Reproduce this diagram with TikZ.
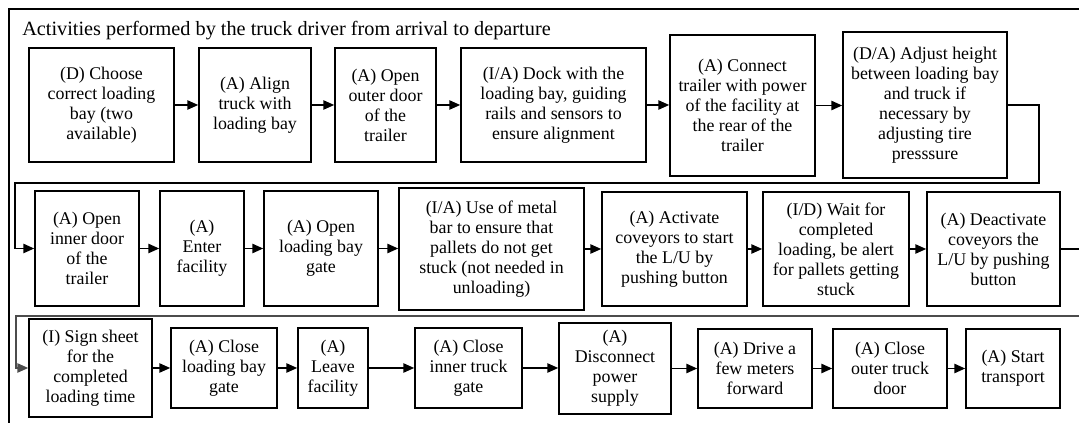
\documentclass[tikz,border=0pt]{standalone}
\usepackage{fontspec}
\setmainfont{Liberation Serif}
\usetikzlibrary{arrows.meta}
\newcommand{\abox}[6]{\node[box, minimum width={(#4-#2)*0.75pt}, minimum height={(#5-#3)*0.75pt}] (#1) at ({(#2+#4)/2},{(#3+#5)/2}) {#6};}
\begin{document}
\begin{tikzpicture}[x=0.75pt,y=-0.75pt,
  box/.style={draw=black, line width=1.3pt, inner sep=0pt, align=center, font=\fontsize{13.4}{15}\selectfont},
  conn/.style={draw=black, line width=0.8pt, -{Triangle[length=8pt,width=7pt]}},
  wrap/.style={draw=black, line width=0.8pt},
  frame/.style={draw=black, line width=1.2pt}]
\useasboundingbox (0,0) rectangle (1079,423);
\fill[white] (0,0) rectangle (1079,423);
% frame
\coordinate (ftr) at (1090,9);
\coordinate (ftl) at (9,9);
\coordinate (fbl) at (9,440);
\draw[frame] (ftr) -- (ftl) -- (fbl);
\node[anchor=base west, inner sep=0pt, font=\fontsize{15.2}{17}\selectfont] (title) at (22,36) {Activities performed by the truck driver from arrival to departure};
% row 1
\abox{b1}{29}{48}{174}{162}{(D) Choose\\correct loading\\bay (two\\available)}
\abox{b2}{199}{48}{311}{162}{(A) Align\\truck with\\loading bay}
\abox{b3}{335}{48}{436}{162}{(A) Open\\outer door\\of the\\trailer}
\abox{b4}{461}{48}{646}{162}{(I/A) Dock with the\\loading bay, guiding\\rails and sensors to\\ensure alignment}
\abox{b5}{670}{35}{815}{176}{(A) Connect\\trailer with power\\of the facility at\\the rear of the\\trailer}
\abox{b6}{843}{32}{1007}{178}{(D/A) Adjust height\\between loading bay\\and truck if\\necessary by\\adjusting tire\\presssure}
% row 2
\abox{b7}{35}{191}{139}{306}{(A) Open\\inner door\\of the\\trailer}
\abox{b8}{160}{191}{244}{306}{(A)\\Enter\\facility}
\abox{b9}{264}{191}{378}{306}{(A) Open\\loading bay\\gate}
\abox{b10}{399}{188}{584}{310}{(I/A) Use of metal\\bar to ensure that\\pallets do not get\\stuck (not needed in\\unloading)}
\abox{b11}{602}{192}{747}{306}{(A) Activate\\coveyors to start\\the L/U by\\pushing button}
\abox{b12}{763}{192}{909}{306}{(I/D) Wait for\\completed\\loading, be alert\\for pallets getting\\stuck}
\abox{b13}{927}{192}{1060}{306}{(A) Deactivate\\coveyors the\\L/U by pushing\\button}
% row 3
\abox{b14}{29}{319}{152}{417}{(I) Sign sheet\\for the\\completed\\loading time}
\abox{b15}{171}{328}{277}{408}{(A) Close\\loading bay\\gate}
\abox{b16}{298}{328}{368}{408}{(A)\\Leave\\facility}
\abox{b17}{415}{328}{522}{408}{(A) Close\\inner truck\\gate}
\abox{b18}{559}{323}{671}{414}{(A)\\Disconnect\\power\\supply}
\abox{b19}{698}{329}{812}{408}{(A) Drive a\\few meters\\forward}
\abox{b20}{833}{329}{947}{408}{(A) Close\\outer truck\\door}
\abox{b21}{966}{329}{1060}{408}{(A) Start\\transport}
% connectors row 1
\foreach \a/\b in {b1/b2,b2/b3,b3/b4,b4/b5,b5/b6}
  \draw[conn] (\a.east) -- (\a.east -| \b.west);
% wrap 1 -> 2
\coordinate (w1a) at (1039,183);
\coordinate (w1b) at (15,183);
\draw[conn] (b6.east) -| (w1a) -- (w1b) |- (b7.west);
% row 2
\foreach \a/\b in {b7/b8,b8/b9,b9/b10,b10/b11,b11/b12,b12/b13}
  \draw[conn] (\a.east) -- (\a.east -| \b.west);
% wrap 2 -> 3
\coordinate (w2a) at (1095,316);
\coordinate (w2b) at (16,316);
\draw[wrap] (b13.east) -| (w2a);
\draw[conn, draw=black!70] (w2a) -- (w2b) |- (b14.west);
% row 3
\foreach \a/\b in {b14/b15,b15/b16,b16/b17,b17/b18,b18/b19,b19/b20,b20/b21}
  \draw[conn] (\a.east) -- (\a.east -| \b.west);
\end{tikzpicture}
\end{document}
